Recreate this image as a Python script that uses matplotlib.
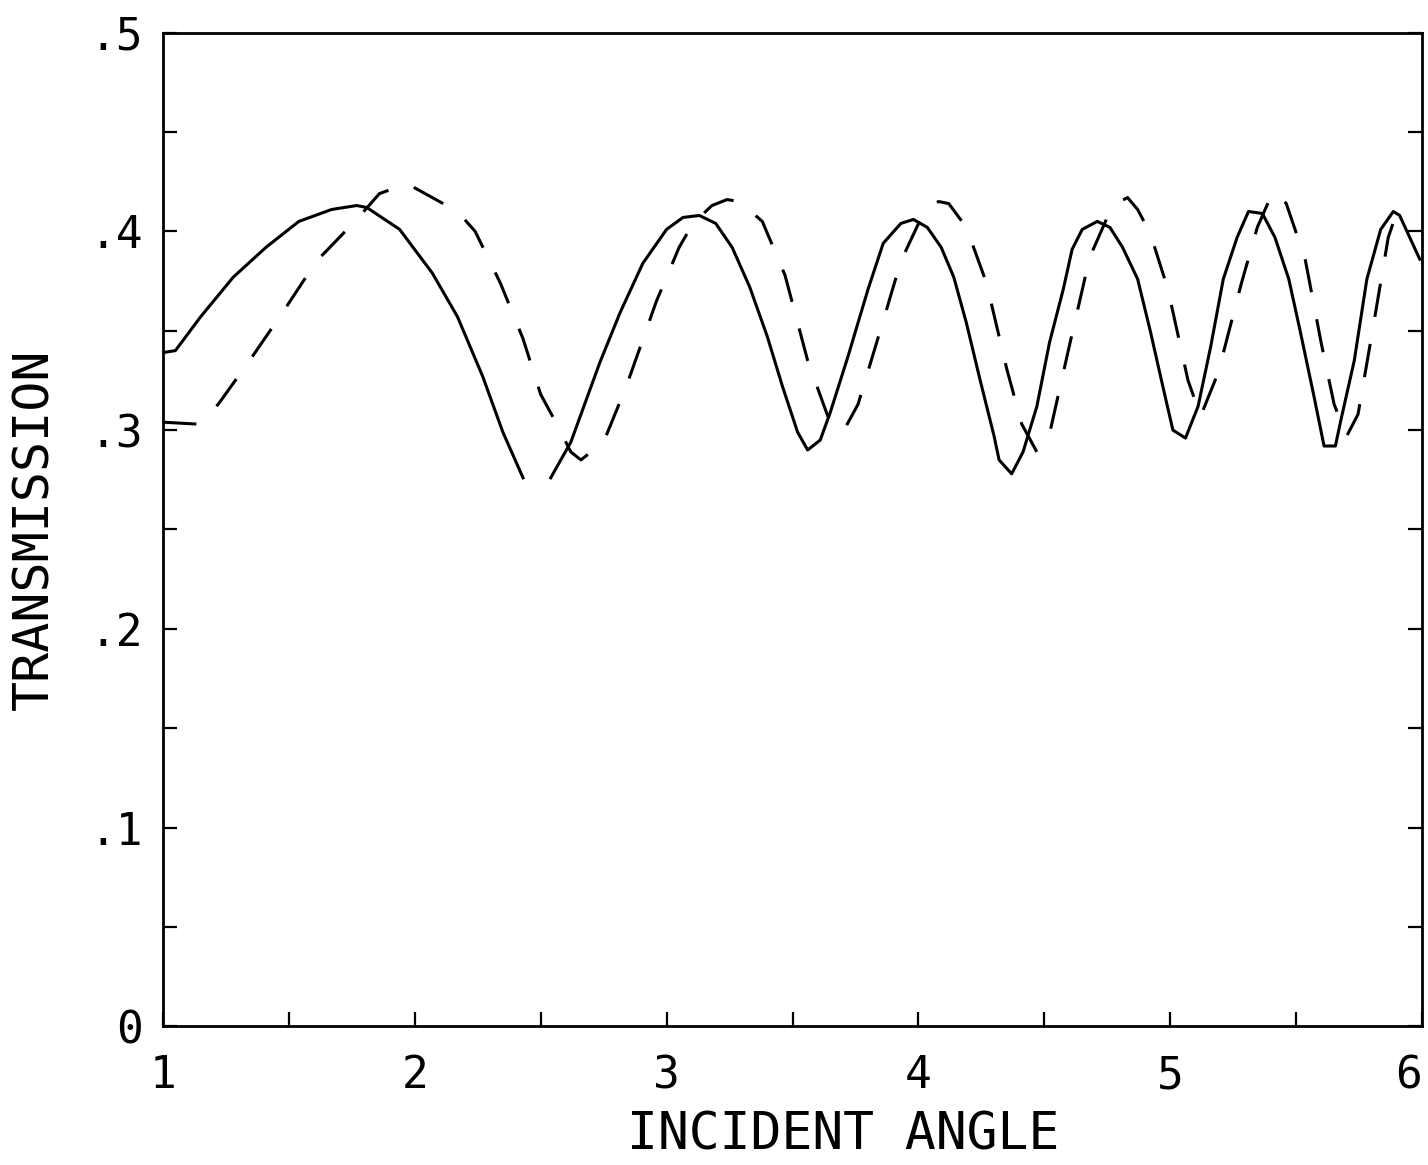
### Transmission vs incident angle - recreated plot

import numpy as np
import matplotlib.pyplot as plt


### Data

solid_x = [1.00, 1.05, 1.15, 1.28, 1.41, 1.54, 1.67, 1.77, 1.81, 1.94, 2.07, 2.17, 2.27, 2.35, 2.43, 2.48,
           2.54, 2.62, 2.735, 2.815, 2.906, 3.00, 3.065, 3.13, 3.195, 3.26, 3.33, 3.40, 3.46, 3.52, 3.56, 3.61,
           3.65, 3.72, 3.80, 3.86, 3.93, 3.98, 4.035, 4.09, 4.14, 4.19, 4.245, 4.30, 4.32, 4.37, 4.415, 4.47,
           4.52, 4.575, 4.61, 4.65, 4.71, 4.76, 4.81, 4.87, 4.92, 4.97, 5.01, 5.06, 5.11, 5.16, 5.21, 5.265,
           5.31, 5.365, 5.415, 5.47, 5.515, 5.57, 5.61, 5.655, 5.675, 5.73, 5.78, 5.835, 5.885, 5.91, 5.99]
solid_y = [0.339, 0.340, 0.357, 0.377, 0.392, 0.405, 0.411, 0.413, 0.412, 0.401, 0.379, 0.357, 0.327, 0.299, 0.276, np.nan,
           0.276, 0.294, 0.334, 0.359, 0.384, 0.401, 0.407, 0.408, 0.404, 0.392, 0.372, 0.347, 0.322, 0.299, 0.290, 0.295,
           0.309, 0.337, 0.371, 0.394, 0.404, 0.406, 0.402, 0.392, 0.377, 0.354, 0.325, 0.297, 0.285, 0.278, 0.289, 0.312,
           0.344, 0.371, 0.391, 0.401, 0.405, 0.402, 0.392, 0.376, 0.350, 0.322, 0.300, 0.296, 0.312, 0.342, 0.376, 0.397,
           0.410, 0.409, 0.397, 0.376, 0.350, 0.317, 0.292, 0.292, 0.304, 0.335, 0.376, 0.401, 0.410, 0.408, 0.386]

dash_x = [1.00, 1.14, 1.22, 1.35, 1.48, 1.61, 1.77, 1.86, 1.97, 2.07, 2.17, 2.24, 2.34, 2.43, 2.50, 2.56,
          2.62, 2.66, 2.75, 2.84, 2.96, 3.05, 3.105, 3.18, 3.24, 3.29, 3.38, 3.47, 3.56, 3.64, 3.70, 3.76,
          3.86, 3.93, 4.03, 4.08, 4.12, 4.19, 4.27, 4.35, 4.41, 4.47, 4.52, 4.60, 4.68, 4.77, 4.83, 4.87,
          4.92, 4.99, 5.07, 5.12, 5.19, 5.28, 5.345, 5.39, 5.42, 5.46, 5.535, 5.60, 5.65, 5.70, 5.745, 5.805,
          5.865, 5.90, 5.92]
dash_y = [0.304, 0.303, 0.313, 0.336, 0.360, 0.385, 0.406, 0.419, 0.424, 0.417, 0.410, 0.400, 0.374, 0.346, 0.318, 0.304,
          0.289, 0.285, 0.294, 0.322, 0.365, 0.392, 0.404, 0.413, 0.416, 0.415, 0.405, 0.378, 0.335, 0.307, 0.299, 0.313,
          0.355, 0.385, 0.412, 0.415, 0.414, 0.402, 0.374, 0.331, 0.303, 0.289, 0.298, 0.343, 0.387, 0.413, 0.417, 0.411,
          0.399, 0.371, 0.325, 0.307, 0.329, 0.373, 0.402, 0.415, 0.420, 0.414, 0.386, 0.343, 0.313, 0.297, 0.308, 0.352,
          0.397, 0.410, 0.410]

x_ticks = [1, 1.5, 2, 2.5, 3, 3.5, 4, 4.5, 5, 5.5, 6]
x_labels = ["1", "", "2", "", "3", "", "4", "", "5", "", "6"]
y_ticks = [0, 0.05, 0.1, 0.15, 0.2, 0.25, 0.3, 0.35, 0.4, 0.45, 0.5]
y_labels = ["0", "", ".1", "", ".2", "", ".3", "", ".4", "", ".5"]


### Plot

plt.rcParams['font.family'] = ['DejaVu Sans Mono']

fig = plt.figure(figsize=(14.28, 11.65), dpi=100)
ax = fig.add_axes([0.114, 0.119, 0.882, 0.853])

ax.plot(solid_x, solid_y, color="black", lw=2.2)
ax.plot(dash_x, dash_y, color="black", lw=2.2, linestyle=(0, (11, 9)))

ax.set_xlim(1, 6)
ax.set_ylim(0, 0.5)
ax.set_xticks(x_ticks)
ax.set_xticklabels(x_labels, fontsize=32)
ax.get_xticklabels()[-1].set_horizontalalignment("right")
ax.set_yticks(y_ticks)
ax.set_yticklabels(y_labels, fontsize=32)
ax.tick_params(direction="in", length=10, width=1.6, top=False, right=True)
ax.tick_params(axis="x", pad=20)
ax.tick_params(axis="y", pad=14)
for s in ax.spines.values():
    s.set_linewidth(2)

ax.set_xlabel("INCIDENT ANGLE", fontsize=37)
ax.xaxis.set_label_coords(0.54, -0.085)
ax.set_ylabel("TRANSMISSION", fontsize=36)
ax.yaxis.set_label_coords(-0.083, 0.5)

plt.savefig("out.png", dpi=100)
